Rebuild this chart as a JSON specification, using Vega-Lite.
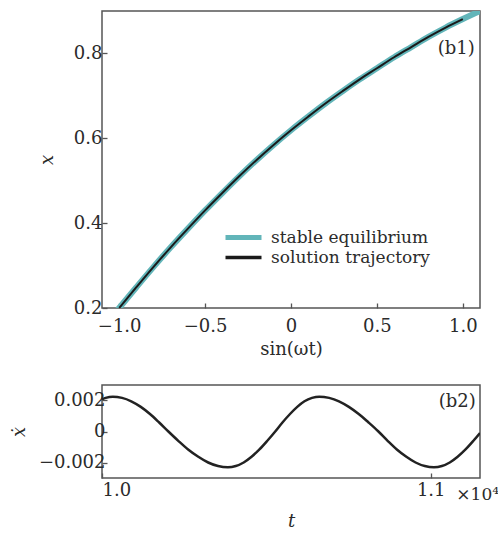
{
  "$schema": "https://vega.github.io/schema/vega-lite/v6.json",
  "background": "white",
  "padding": {"left": 9, "top": 10, "right": 0, "bottom": 0},
  "config": {
    "font": "DejaVu Serif",
    "view": {"stroke": "#555555", "strokeWidth": 1.5},
    "axis": {
      "grid": false, "domain": false,
      "tickColor": "#555555", "tickWidth": 1.3, "tickSize": -5,
      "labelFont": "DejaVu Serif", "labelColor": "#2b2b2b", "labelFontSize": 18,
      "titleFont": "DejaVu Serif", "titleColor": "#2b2b2b", "titleFontSize": 18, "titleFontWeight": "normal"
    },
    "legend": {
      "labelFont": "DejaVu Serif", "labelColor": "#2b2b2b", "labelFontSize": 17, "labelLimit": 400
    },
    "text": {"font": "DejaVu Serif"},
    "concat": {"spacing": 25}
  },
  "datasets": {
    "equilibrium": [
      {"s": -1.1, "x": 0.149}, {"s": -1.0, "x": 0.200}, {"s": -0.9, "x": 0.249}, {"s": -0.8, "x": 0.297},
      {"s": -0.7, "x": 0.343}, {"s": -0.6, "x": 0.387}, {"s": -0.5, "x": 0.430}, {"s": -0.4, "x": 0.471},
      {"s": -0.3, "x": 0.511}, {"s": -0.2, "x": 0.549}, {"s": -0.1, "x": 0.585}, {"s": 0.0, "x": 0.619},
      {"s": 0.1, "x": 0.651}, {"s": 0.2, "x": 0.682}, {"s": 0.3, "x": 0.711}, {"s": 0.4, "x": 0.739},
      {"s": 0.5, "x": 0.765}, {"s": 0.6, "x": 0.791}, {"s": 0.7, "x": 0.815}, {"s": 0.8, "x": 0.839},
      {"s": 0.9, "x": 0.861}, {"s": 1.0, "x": 0.881}, {"s": 1.1, "x": 0.900}
    ],
    "trajectory": [
      {"s": -1.0, "x": 0.200}, {"s": -0.9, "x": 0.249}, {"s": -0.8, "x": 0.297},
      {"s": -0.7, "x": 0.343}, {"s": -0.6, "x": 0.387}, {"s": -0.5, "x": 0.430}, {"s": -0.4, "x": 0.471},
      {"s": -0.3, "x": 0.511}, {"s": -0.2, "x": 0.549}, {"s": -0.1, "x": 0.585}, {"s": 0.0, "x": 0.619},
      {"s": 0.1, "x": 0.651}, {"s": 0.2, "x": 0.682}, {"s": 0.3, "x": 0.711}, {"s": 0.4, "x": 0.739},
      {"s": 0.5, "x": 0.765}, {"s": 0.6, "x": 0.791}, {"s": 0.7, "x": 0.815}, {"s": 0.8, "x": 0.839},
      {"s": 0.9, "x": 0.861}, {"s": 1.0, "x": 0.881}
    ],
    "velocity": [
      {"t": 10000, "v": 0.00208}, {"t": 10011, "v": 0.00217}, {"t": 10033, "v": 0.00225},
      {"t": 10061, "v": 0.00217}, {"t": 10089, "v": 0.00195}, {"t": 10118, "v": 0.00159},
      {"t": 10146, "v": 0.00113}, {"t": 10174, "v": 0.00058}, {"t": 10202, "v": 0.0},
      {"t": 10232, "v": -0.00060}, {"t": 10262, "v": -0.00116}, {"t": 10293, "v": -0.00163},
      {"t": 10323, "v": -0.00200}, {"t": 10353, "v": -0.00223}, {"t": 10383, "v": -0.00231},
      {"t": 10407, "v": -0.00223}, {"t": 10431, "v": -0.00200}, {"t": 10455, "v": -0.00163},
      {"t": 10479, "v": -0.00116}, {"t": 10503, "v": -0.00060}, {"t": 10527, "v": 0.0},
      {"t": 10549, "v": 0.00058}, {"t": 10572, "v": 0.00113}, {"t": 10594, "v": 0.00159},
      {"t": 10616, "v": 0.00195}, {"t": 10639, "v": 0.00217}, {"t": 10661, "v": 0.00225},
      {"t": 10691, "v": 0.00217}, {"t": 10721, "v": 0.00195}, {"t": 10751, "v": 0.00159},
      {"t": 10781, "v": 0.00113}, {"t": 10811, "v": 0.00058}, {"t": 10841, "v": 0.0},
      {"t": 10869, "v": -0.00060}, {"t": 10897, "v": -0.00116}, {"t": 10926, "v": -0.00163},
      {"t": 10954, "v": -0.00200}, {"t": 10982, "v": -0.00223}, {"t": 11010, "v": -0.00231},
      {"t": 11034, "v": -0.00223}, {"t": 11058, "v": -0.00200}, {"t": 11082, "v": -0.00163},
      {"t": 11106, "v": -0.00116}, {"t": 11130, "v": -0.00060}, {"t": 11150, "v": -0.00010}
    ]
  },
  "vconcat": [
    {
      "width": 378,
      "height": 297,
      "layer": [
        {
          "data": {"name": "equilibrium"},
          "mark": {"type": "line", "clip": true, "strokeWidth": 6, "interpolate": "monotone"},
          "encoding": {
            "x": {"field": "s", "type": "quantitative", "scale": {"domain": [-1.1, 1.1], "nice": false},
                  "axis": {"values": [-1, -0.5, 0, 0.5, 1], "labelExpr": "datum.value == 0 ? '0' : format(datum.value, '.1f')", "title": "sin(ωt)", "labelPadding": 14, "titlePadding": 5}},
            "y": {"field": "x", "type": "quantitative", "scale": {"domain": [0.2, 0.9], "nice": false},
                  "axis": {"values": [0.2, 0.4, 0.6, 0.8], "format": ".1f", "title": "x", "titleFontStyle": "italic", "labelPadding": 5, "titlePadding": 17}},
            "color": {"datum": "stable equilibrium", "type": "nominal",
                      "scale": {"domain": ["stable equilibrium", "solution trajectory"], "range": ["#62b5b9", "#1a1a1a"]},
                      "legend": {"title": null, "orient": "none", "legendX": 133, "legendY": 218,
                                 "symbolType": "M-2.4,0H2.4", "symbolSize": 225, "symbolStrokeWidth": 4,
                                 "labelOffset": 19, "rowPadding": 0,
                                 "encode": {"symbols": {"update": {"strokeWidth": {"signal": "datum.value == 'stable equilibrium' ? 5 : 3.5"}}}}}}
          }
        },
        {
          "data": {"name": "trajectory"},
          "mark": {"type": "line", "clip": true, "strokeWidth": 2, "interpolate": "monotone"},
          "encoding": {
            "x": {"field": "s", "type": "quantitative"},
            "y": {"field": "x", "type": "quantitative"},
            "color": {"datum": "solution trajectory", "type": "nominal"}
          }
        },
        {
          "data": {"values": [{}]},
          "mark": {"type": "text", "align": "right", "baseline": "middle", "fontSize": 18, "color": "#2b2b2b"},
          "encoding": {
            "x": {"datum": 1.07, "type": "quantitative"},
            "y": {"datum": 0.81, "type": "quantitative"},
            "text": {"value": "(b1)"}
          }
        }
      ]
    },
    {
      "width": 378,
      "height": 93,
      "layer": [
        {
          "data": {"name": "velocity"},
          "mark": {"type": "line", "clip": true, "strokeWidth": 2.5, "color": "#222222", "interpolate": "monotone"},
          "encoding": {
            "x": {"field": "t", "type": "quantitative", "scale": {"domain": [10000, 11150], "nice": false, "zero": false},
                  "axis": {"values": [10000, 11000], "labelExpr": "format(datum.value / 10000, '.1f')", "title": "t", "titleFontStyle": "italic", "labelPadding": 8, "titlePadding": 13}},
            "y": {"field": "v", "type": "quantitative", "scale": {"domain": [-0.003, 0.003], "nice": false},
                  "axis": {"values": [-0.002, 0, 0.002], "labelExpr": "datum.value == 0 ? '0' : format(datum.value, '.3f')", "title": "ẋ", "titleFontStyle": "italic", "labelPadding": 2, "titlePadding": 10}}
          }
        },
        {
          "data": {"values": [{}]},
          "mark": {"type": "text", "align": "right", "baseline": "middle", "fontSize": 18, "color": "#2b2b2b"},
          "encoding": {
            "x": {"datum": 11137, "type": "quantitative"},
            "y": {"datum": 0.00188, "type": "quantitative"},
            "text": {"value": "(b2)"}
          }
        },
        {
          "data": {"values": [{}]},
          "mark": {"type": "text", "align": "center", "baseline": "middle", "fontSize": 17, "color": "#2b2b2b", "clip": false},
          "encoding": {
            "x": {"datum": 11143, "type": "quantitative"},
            "y": {"datum": -0.0041, "type": "quantitative"},
            "text": {"value": "×10⁴"}
          }
        }
      ]
    }
  ]
}
